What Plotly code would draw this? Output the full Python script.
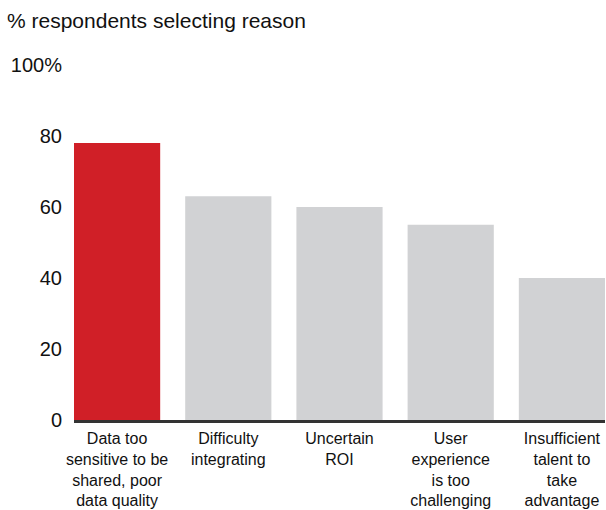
import plotly.graph_objects as go

categories = [
    "Data too<br>sensitive to be<br>shared, poor<br>data quality",
    "Difficulty<br>integrating",
    "Uncertain<br>ROI",
    "User<br>experience<br>is too<br>challenging",
    "Insufficient<br>talent to<br>take<br>advantage",
]
values = [78, 63, 60, 55, 40]
bar_colors = ["#D01F27", "#D1D2D4", "#D1D2D4", "#D1D2D4", "#D1D2D4"]

y_tickvals = [0, 20, 40, 60, 80, 100]
y_ticktext = ["0", "20", "40", "60", "80", "100%"]

FONT = "Liberation Sans, Arial, sans-serif"

# plot area in pixels (left 74 .. right 605, top 65 .. bottom 420)
PLOT_W = 531
PLOT_H = 355

fig = go.Figure(
    go.Bar(
        x=list(range(len(categories))),
        y=values,
        marker=dict(color=bar_colors, line=dict(width=0)),
        width=0.775,
        hoverinfo="skip",
    )
)

fig.update_layout(
    width=606,
    height=510,
    margin=dict(l=74, r=1, t=65, b=90),
    plot_bgcolor="white",
    paper_bgcolor="white",
    showlegend=False,
    font=dict(family=FONT, color="#111111"),
    annotations=[
        dict(
            text="% respondents selecting reason",
            xref="paper", yref="paper",
            x=(5 - 74) / PLOT_W, y=1 + 44 / PLOT_H,
            xanchor="left", yanchor="middle",
            showarrow=False,
            font=dict(size=21, family=FONT, color="#111111"),
        )
    ],
)

fig.update_xaxes(
    range=[-0.3875, 4.3875],
    tickvals=list(range(len(categories))),
    ticktext=categories,
    tickfont=dict(size=16, family=FONT, color="#111111"),
    showgrid=False,
    zeroline=False,
    showline=True,
    linecolor="#333333",
    linewidth=2.5,
    ticks="",
    ticklabelstandoff=2,
)

fig.update_yaxes(
    range=[0, 100],
    tickvals=y_tickvals,
    ticktext=y_ticktext,
    tickfont=dict(size=20, family=FONT, color="#111111"),
    showgrid=False,
    zeroline=False,
    showline=False,
    ticks="",
    ticklabelstandoff=11,
)

fig.write_html("out.html")
